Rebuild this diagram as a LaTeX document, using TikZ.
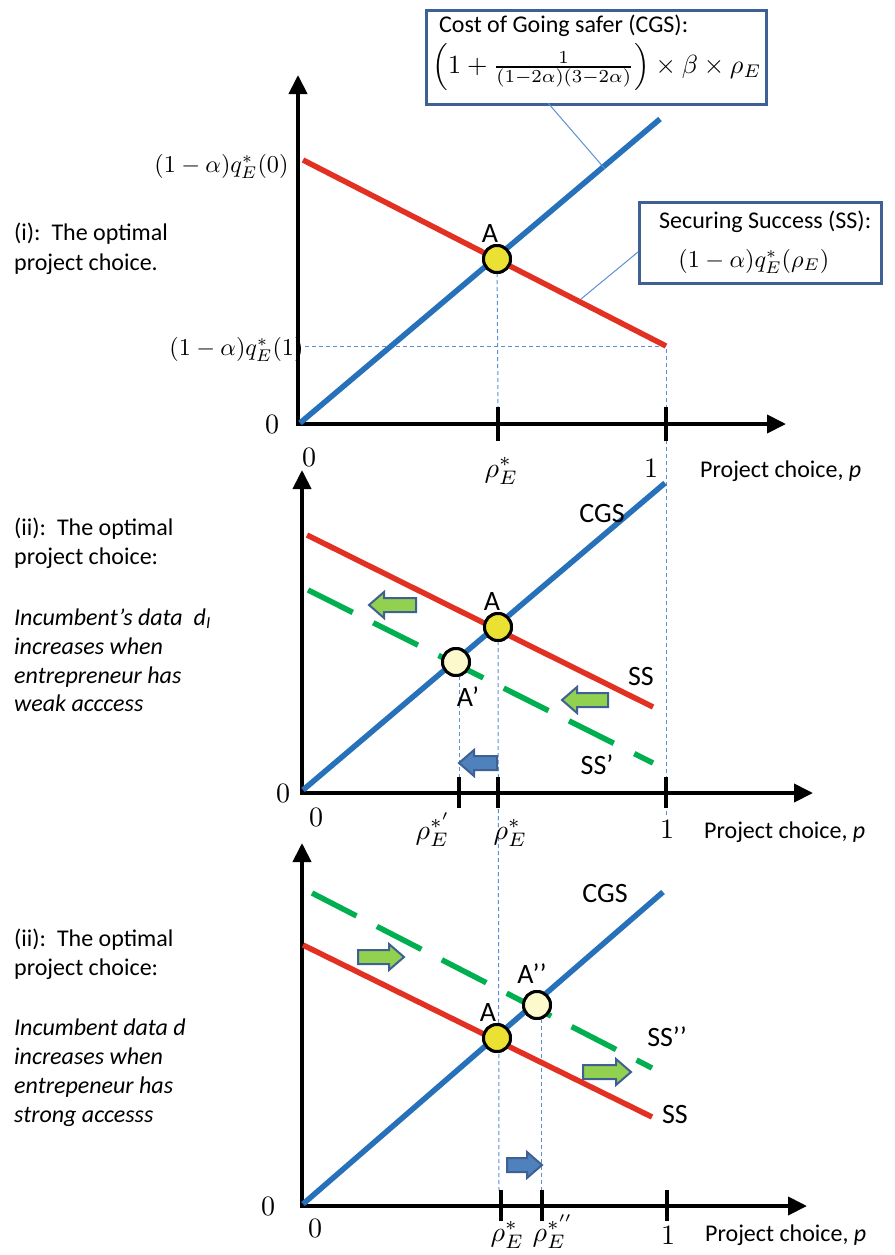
\documentclass[tikz,border=0pt]{standalone}
\usepackage{amsmath}
\usepackage[no-math]{fontspec}
\setmainfont{Carlito}
\usetikzlibrary{arrows.meta}
\definecolor{cgsblue}{RGB}{38,113,185}
\definecolor{ssred}{RGB}{226,48,34}
\definecolor{ssgreen}{RGB}{0,176,80}
\definecolor{guideblue}{RGB}{91,145,210}
\definecolor{boxblue}{RGB}{62,96,146}
\definecolor{eqyellow}{RGB}{235,225,50}
\definecolor{eqpale}{RGB}{252,250,205}
\definecolor{arrgreen}{RGB}{146,208,80}
\definecolor{arrblue}{RGB}{79,129,189}
\definecolor{arrborder}{RGB}{62,96,146}
\begin{document}
\begin{tikzpicture}[x=1pt,y=-1pt,
  axis/.style={line width=4pt,line join=miter,
    {Triangle[length=19pt,width=18pt]}-{Triangle[length=19pt,width=18pt]}},
  tickmark/.style={line width=3.5pt},
  cgsline/.style={line width=5.5pt,draw=cgsblue},
  ssline/.style={line width=5.5pt,draw=ssred},
  ssdash/.style={line width=5.5pt,draw=ssgreen,dash pattern=on 50pt off 23pt},
  guide/.style={line width=1pt,draw=guideblue,dash pattern=on 4pt off 3pt},
  leader/.style={line width=1pt,draw=guideblue},
  eqA/.style={circle,minimum size=27pt,inner sep=0pt,line width=3pt,draw=black,fill=eqyellow},
  eqB/.style={eqA,fill=eqpale},
  infobox/.style={draw=boxblue,line width=3pt,fill=white,inner sep=0pt,anchor=north west},
  txt/.style={font=\fontsize{24}{29}\selectfont,inner sep=0pt,anchor=base west},
  itxt/.style={txt,font=\fontsize{24}{29}\selectfont\itshape},
  plbl/.style={font=\fontsize{28}{32}\selectfont,inner sep=0pt},
  mlbl/.style={inner sep=0pt,scale=2.42},
  rlbl/.style={inner sep=0pt,scale=2.8,anchor=base west},
  nlbl/.style={inner sep=0pt,scale=2.8,anchor=base},
  garr/.style={fill=arrgreen,draw=arrborder,line width=2pt},
  barr/.style={fill=arrblue,draw=arrborder,line width=2pt},
  pics/blockarr/.style={code={
    \path[pic actions] (0,-7) -- (#1-15,-7) -- (#1-15,-13) -- (#1,0)
      -- (#1-15,13) -- (#1-15,7) -- (0,7) -- cycle;}}
]
\useasboundingbox (0,0) rectangle (894,1255);
\fill[white] (0,0) rectangle (894,1255);

% ================= Panel 1 =================
\coordinate (c1s) at (300,423);
\coordinate (c1e) at (660,119);
\coordinate (r1s) at (303,160);
\coordinate (r1e) at (666,346);
\coordinate (h1s) at (305,346);
\coordinate (v1b) at (666,815);
\coordinate (t1a) at (498,407);

\node[mlbl,anchor=base east] (q0) at (289,172) {$(1-\alpha)q_E^*(0)$};
\node[mlbl,anchor=base east] (q1) at (304,355) {$(1-\alpha)q_E^*(1)$};

\node[eqA] (A1) at (497,259) {};
\draw[guide] (A1.center) -- (t1a);
\draw[guide] (h1s) -- (r1e) -- (v1b);

\draw[axis] (298,75) -- (298,424) -- (786,424);
\draw[tickmark] (498,407) -- (498,441);
\draw[tickmark] (666,407) -- (666,441);

\draw[ssline] (r1s) -- (r1e);
\draw[cgsline] (c1s) -- (c1e);
\node[eqA] at (A1) {};
\node[plbl] (lA1) at (490,234) {A};

\node[nlbl] (z1a) at (272,433) {$0$};
\node[nlbl] (z1b) at (309,466) {$0$};
\node[rlbl] (rho1) at (484,477) {$\rho_E^*$};
\node[nlbl] (one1) at (651,477) {$1$};
\node[txt] (pc1) at (700,477) {Project choice, \textit{p}};

% info boxes
\node[infobox,minimum width=340pt,minimum height=94pt] (cgsbox) at (425,9) {};
\node[txt] (cgst) at (439,33) {Cost of Going safer (CGS):};
\node[inner sep=0pt,scale=2.62,anchor=west] (cgsf) at (432,67)
  {$\Bigl(1+\frac{1}{(1-2\alpha)(3-2\alpha)}\Bigr)\times\beta\times\rho_E$};
\coordinate (cgsl) at (605,169);
\draw[leader] (548,103) -- (cgsl);

\node[infobox,minimum width=242pt,minimum height=81pt] (ssbox) at (638,201) {};
\node[txt] (sst) at (659,228) {Securing Success (SS):};
\node[mlbl,anchor=base west] (ssf) at (678,267) {$(1-\alpha)q_E^*(\rho_E)$};
\coordinate (ssl) at (581,299);
\draw[leader] (ssbox.west |- 0,252) -- (ssl);

\node[txt] (l1a) at (14,240) {(i):\ \ The optimal};
\node[txt] (l1b) at (14,270) {project choice.};

% ================= Panel 2 =================
\coordinate (c2s) at (303,790);
\coordinate (c2e) at (665,483);
\coordinate (r2s) at (307,535);
\coordinate (r2e) at (653,707);
\coordinate (g2s) at (308,590);
\coordinate (g2e) at (653,763);
\coordinate (v2b) at (499,1193);
\coordinate (v2c) at (459,793);

\node[eqA] (A2) at (498,627) {};
\node[eqB] (A2p) at (456,662) {};
\draw[guide] (A2.center) -- (v2b);
\draw[guide] (459,662) -- (v2c);

\draw[axis] (302,470) -- (302,793) -- (813,793);
\draw[tickmark] (459,777) -- (459,808);
\draw[tickmark] (498,777) -- (498,808);
\draw[tickmark] (666,777) -- (666,808);

\draw[ssdash] (g2s) -- (g2e);
\draw[ssline] (r2s) -- (r2e);
\draw[cgsline] (c2s) -- (c2e);
\node[eqA] at (A2) {};
\node[eqB] at (A2p) {};

\node[plbl] (cgs2) at (602,514) {CGS};
\node[plbl] (ss2) at (641,677) {SS};
\node[plbl] (ssp2) at (597,765) {SS’};
\node[plbl] (lA2) at (492,602) {A};
\node[plbl] (lA2p) at (468,697) {A’};

\pic[garr,xscale=-1] at (416,605) {blockarr=47};
\pic[garr,xscale=-1] at (608,700) {blockarr=46};
\pic[barr,xscale=-1] at (497,763) {blockarr=38};

\node[nlbl] (z2a) at (283,802) {$0$};
\node[nlbl] (z2b) at (316,826) {$0$};
\node[rlbl] (rho2p) at (415,839) {$\rho_E^{*^{\prime}}$};
\node[rlbl] (rho2) at (493,839) {$\rho_E^*$};
\node[nlbl] (one2) at (667,838) {$1$};
\node[txt] (pc2) at (704,838) {Project choice, \textit{p}};

\node[txt] (l2a) at (14,535) {(ii):\ \ The optimal};
\node[txt] (l2b) at (14,564) {project choice:};
\node[itxt] (l2c) at (14,625) {Incumbent’s data\ \ d\textsubscript{I}};
\node[itxt] (l2d) at (14,654) {increases when};
\node[itxt] (l2e) at (14,683) {entrepreneur has};
\node[itxt] (l2f) at (14,711) {weak acccess};

% ================= Panel 3 =================
\coordinate (c3s) at (303,1204);
\coordinate (c3e) at (663,892);
\coordinate (r3s) at (303,945);
\coordinate (r3e) at (652,1117);
\coordinate (g3s) at (312,893);
\coordinate (g3e) at (652,1068);
\coordinate (v3b) at (541,1193);

\node[eqA] (A3) at (497,1038) {};
\node[eqB] (A3pp) at (537,1005) {};
\draw[guide] (541,1005) -- (v3b);

\draw[axis] (302,843) -- (302,1206) -- (807,1206);
\draw[tickmark] (501,1190) -- (501,1221);
\draw[tickmark] (542,1190) -- (542,1221);
\draw[tickmark] (667,1190) -- (667,1221);

\draw[ssdash] (g3s) -- (g3e);
\draw[ssline] (r3s) -- (r3e);
\draw[cgsline] (c3s) -- (c3e);
\node[eqA] at (A3) {};
\node[eqB] at (A3pp) {};

\node[plbl] (cgs3) at (605,893) {CGS};
\node[plbl] (ss3) at (675,1114) {SS};
\node[plbl] (sspp3) at (667,1037) {SS’’};
\node[plbl] (lA3) at (488,1013) {A};
\node[plbl] (lA3pp) at (532,974) {A’’};

\pic[garr] at (358,957) {blockarr=46};
\pic[garr] at (583,1072) {blockarr=48};
\pic[barr] at (507,1165) {blockarr=35};

\node[nlbl] (z3a) at (268,1215) {$0$};
\node[nlbl] (z3b) at (315,1237) {$0$};
\node[rlbl] (rho3) at (490,1241) {$\rho_E^*$};
\node[rlbl] (rho3pp) at (532,1241) {$\rho_E^{*^{\prime\prime}}$};
\node[nlbl] (one3) at (668,1244) {$1$};
\node[txt] (pc3) at (705,1241) {Project choice, \textit{p}};

\node[txt] (l3a) at (14,946) {(ii):\ \ The optimal};
\node[txt] (l3b) at (14,975) {project choice:};
\node[itxt] (l3c) at (14,1035) {Incumbent data d};
\node[itxt] (l3d) at (14,1064) {increases when};
\node[itxt] (l3e) at (14,1093) {entrepeneur has};
\node[itxt] (l3f) at (14,1122) {strong accesss};
\end{tikzpicture}
\end{document}
